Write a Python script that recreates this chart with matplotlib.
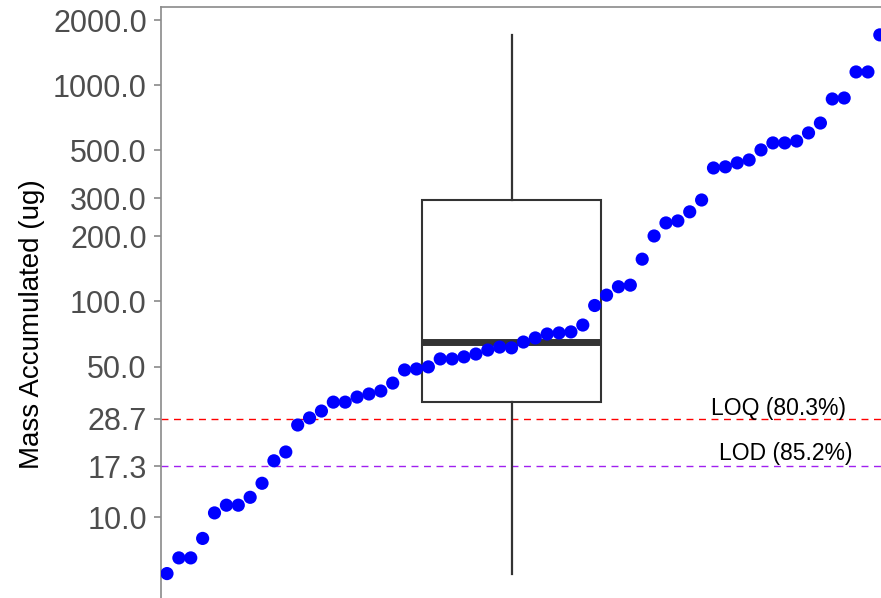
import numpy as np
import matplotlib
matplotlib.use('Agg')
import matplotlib.pyplot as plt

plt.rcParams['font.family'] = ['Liberation Sans', 'DejaVu Sans']

# Mass values, sorted low to high (ug)
mass = [5.5, 6.5, 6.5, 8.0, 10.5, 11.4, 11.4, 12.4, 14.4, 18.3,
        20.1, 26.8, 28.9, 31.1, 34.2, 34.2, 36.1, 37.3, 38.5, 41.9,
        48.2, 48.7, 49.8, 54.2, 54.2, 55.4, 57.1, 59.6, 61.5, 61.0,
        64.9, 67.8, 70.7, 71.5, 72.3, 77.8, 95.8, 107, 117, 119,
        157, 201, 231, 236, 260, 295, 415, 420, 438, 452,
        503, 542, 542, 553, 603, 670, 866, 875, 1155, 1155,
        1715]
rank = np.arange(1, len(mass) + 1)

# Reference limits
loq = 28.7
lod = 17.3
loq_label = 'LOQ (80.3%)'
lod_label = 'LOD (85.2%)'

y_ticks = [2000, 1000, 500, 300, 200, 100, 50, 28.7, 17.3, 10]

fig = plt.figure(figsize=(8.81, 5.98), dpi=100)
# panel runs past the bottom/right edge of the picture (cropped look)
ax = fig.add_axes([160.7 / 881, -43 / 598, (881 - 160.7) / 881, (641 - 7.3) / 598])

# Boxplot of the same data, whiskers to min/max
bp = ax.boxplot(mass, positions=[30], widths=15, whis=(0, 100),
                showcaps=False, showfliers=False, patch_artist=True,
                boxprops=dict(facecolor='white', edgecolor='#333333', linewidth=1.5),
                medianprops=dict(color='#333333', linewidth=5, solid_capstyle='butt'),
                whiskerprops=dict(color='#333333', linewidth=1.6),
                zorder=2)

# Points
ax.scatter(rank, mass, s=90, color='#0000FF', edgecolors='none', zorder=3)

# Limit lines
ax.axhline(loq, color='#FF0000', linestyle=(0, (5, 4)), linewidth=1.0, zorder=1)
ax.axhline(lod, color='#A020F0', linestyle=(0, (5, 4)), linewidth=1.0, zorder=1)
ax.annotate(loq_label, xy=(52.5, loq), xytext=(0, 2.4), textcoords='offset points',
            ha='center', va='baseline', fontsize=16.5, color='black', zorder=4)
ax.annotate(lod_label, xy=(53.1, lod), xytext=(0, 4.3), textcoords='offset points',
            ha='center', va='baseline', fontsize=16.5, color='black', zorder=4)

ax.set_yscale('log')
ax.set_ylim(10 ** 0.4282, 10 ** 3.3619)
ax.set_xlim(0.47, 61.1)
ax.set_yticks(y_ticks)
ax.set_yticklabels(['%.1f' % t for t in y_ticks])
ax.yaxis.set_minor_locator(matplotlib.ticker.NullLocator())
ax.set_xticks([])

ax.tick_params(axis='y', length=5, width=1.2, color='#8A8A8A', pad=5,
               labelsize=22, labelcolor='#4D4D4D')
ax.set_ylabel('Mass Accumulated (ug)', fontsize=20, color='black', labelpad=6)

for side in ['right', 'bottom']:
    ax.spines[side].set_visible(False)
for side in ['left', 'top']:
    ax.spines[side].set_color('#8A8A8A')
    ax.spines[side].set_linewidth(1.2)

fig.savefig('out.png', dpi=100)
